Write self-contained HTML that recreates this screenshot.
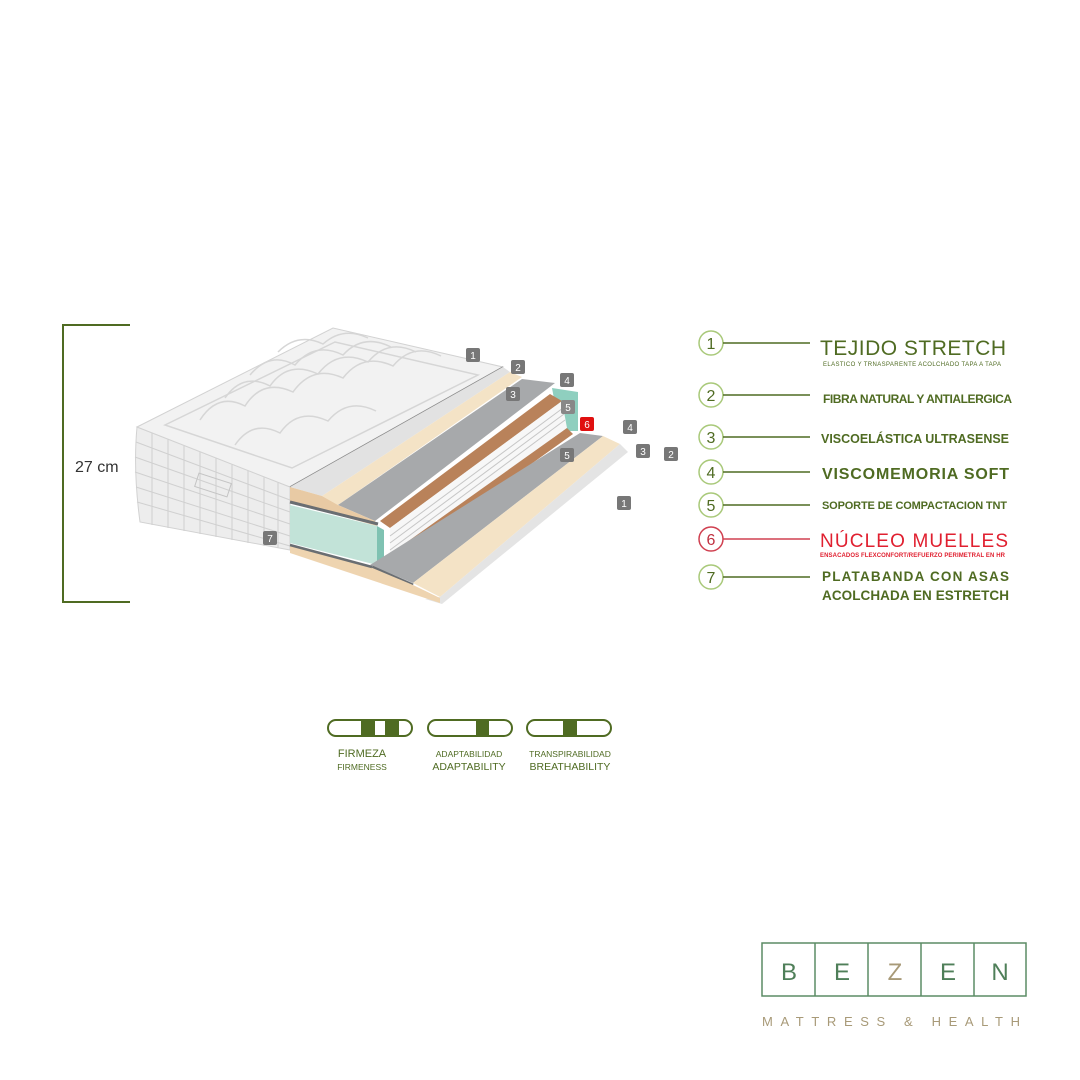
<!DOCTYPE html>
<html><head><meta charset="utf-8"><style>
body{margin:0;width:1080px;height:1080px;background:#fff;overflow:hidden;font-family:"Liberation Sans",sans-serif}
svg{position:absolute;left:0;top:0}
</style></head><body>
<svg width="1080" height="1080" viewBox="0 0 1080 1080">
<g stroke="#4f6b22" stroke-width="2" fill="none">
<path d="M130 325 H63 V602 H130"/>
</g>
<text x="75" y="472" font-size="16" fill="#333">27 cm</text>

<!-- side panel -->
<path d="M137,427 L290,487 L290,550 L140,522 Q133,470 137,427 Z" fill="#ededed" stroke="#d2d2d2"/>
<g stroke="#d0d0d0" stroke-width="1">
<line x1="136" y1="442" x2="290" y2="500"/><line x1="135" y1="457" x2="290" y2="512"/>
<line x1="135" y1="472" x2="290" y2="524"/><line x1="136" y1="487" x2="290" y2="536"/>
<line x1="137" y1="502" x2="290" y2="546"/>
<line x1="152" y1="433" x2="152" y2="525"/><line x1="168" y1="439" x2="168" y2="528"/>
<line x1="184" y1="445" x2="184" y2="531"/><line x1="200" y1="451" x2="200" y2="534"/>
<line x1="216" y1="458" x2="216" y2="537"/><line x1="232" y1="464" x2="232" y2="540"/>
<line x1="248" y1="470" x2="248" y2="543"/><line x1="264" y1="476" x2="264" y2="546"/>
<line x1="278" y1="482" x2="278" y2="548"/>
</g>
<rect x="196" y="478" width="34" height="14" fill="none" stroke="#c4c4c4" transform="rotate(18 213 485)"/>
<!-- top quilted surface -->
<polygon points="137,427 333,328 503,367 290,487" fill="#f2f2f2" stroke="#d2d2d2"/>
<polygon points="165,425 335,342 478,375 292,468" fill="none" stroke="#d6d6d6" stroke-width="1.5"/>
<g fill="none" stroke="#d6d6d6" stroke-width="1.5">
<path d="M200 420 q18 -28 45 -14 q18 -28 48 -14 q20 -28 50 -14 q20 -26 50 -12 q20 -24 48 -10"/>
<path d="M225 398 q18 -26 45 -12 q18 -26 48 -12 q20 -26 50 -12 q20 -24 48 -10"/>
<path d="M250 375 q20 -24 45 -10 q20 -24 48 -10 q20 -22 48 -8"/>
<path d="M278 352 q20 -20 45 -8 q20 -18 45 -6"/>
<path d="M235 445 q18 -26 45 -12 q18 -26 48 -12 q20 -24 48 -10"/>
</g>
<line x1="290" y1="487" x2="503" y2="367" stroke="#8a8a8a" stroke-width="1.5"/>
<!-- top layers -->
<polygon points="290,487 322,496 510,372 503,367" fill="#e2e2e2"/>
<polygon points="322,496 338,505 522,377 510,372" fill="#f4e3c6"/>
<polygon points="338,505 375,521 555,383 522,379" fill="#a7a9ab"/>
<polygon points="290,487 322,496 338,505 375,521 377,526 290,502" fill="#e8caa4"/>
<line x1="290" y1="502" x2="378" y2="524" stroke="#6a6e72" stroke-width="3"/>
<!-- foam -->
<polygon points="290,505 377,526 377,565 290,543" fill="#c2e3d8"/>
<polygon points="377,526 384,530 384,566 377,565" fill="#7fc2b2"/>
<polygon points="552,388 578,392 578,431 560,431" fill="#8fcfbf"/>
<!-- brown & springs -->
<polygon points="380,521 390,528 562,401 550,394" fill="#b9825a"/>
<polygon points="390,528 562,401 567,428 390,558" fill="#f7f7f7"/>
<g stroke="#c6c6c6" stroke-width="1" fill="none">
<path d="M390 536 L563 408"/><path d="M390 543 L564 414"/><path d="M390 550 L565 420"/>
</g>
<polygon points="386,557 392,564 573,434 567,428" fill="#b9825a"/>
<!-- lower layers -->
<polygon points="370,565 413,583 603,436 580,433" fill="#a7a9ab"/>
<line x1="372" y1="567" x2="413" y2="585" stroke="#6a6e72" stroke-width="3"/>
<polygon points="413,583 440,597 620,444 603,436" fill="#f4e3c6"/>
<polygon points="425,599 442,604 628,452 620,444 440,597" fill="#e4e4e4"/>
<polygon points="290,545 370,567 413,585 440,598 440,603 290,553" fill="#eed4b0"/>
<line x1="290" y1="545" x2="372" y2="567" stroke="#6a6e72" stroke-width="2.5"/>
<!-- badges -->
<g font-size="10" fill="#fff" text-anchor="middle">
<rect x="466" y="348" width="14" height="14" rx="2" fill="#777"/><text x="473" y="359">1</text>
<rect x="511" y="360" width="14" height="14" rx="2" fill="#777"/><text x="518" y="371">2</text>
<rect x="506" y="387" width="14" height="14" rx="2" fill="#777"/><text x="513" y="398">3</text>
<rect x="560" y="373" width="14" height="14" rx="2" fill="#777"/><text x="567" y="384">4</text>
<rect x="561" y="400" width="14" height="14" rx="2" fill="#888"/><text x="568" y="411">5</text>
<rect x="580" y="417" width="14" height="14" rx="2" fill="#e01010"/><text x="587" y="428">6</text>
<rect x="623" y="420" width="14" height="14" rx="2" fill="#777"/><text x="630" y="431">4</text>
<rect x="636" y="444" width="14" height="14" rx="2" fill="#777"/><text x="643" y="455">3</text>
<rect x="664" y="447" width="14" height="14" rx="2" fill="#777"/><text x="671" y="458">2</text>
<rect x="560" y="448" width="14" height="14" rx="2" fill="#777"/><text x="567" y="459">5</text>
<rect x="617" y="496" width="14" height="14" rx="2" fill="#777"/><text x="624" y="507">1</text>
<rect x="263" y="531" width="14" height="14" rx="2" fill="#777"/><text x="270" y="542">7</text>
</g>
<!-- legend -->
<g fill="none" stroke-width="1.5">
<circle cx="711" cy="343" r="12" stroke="#a9c97a"/><line x1="723" y1="343" x2="810" y2="343" stroke="#4f6b22"/>
<circle cx="711" cy="395" r="12" stroke="#a9c97a"/><line x1="723" y1="395" x2="810" y2="395" stroke="#4f6b22"/>
<circle cx="711" cy="437" r="12" stroke="#a9c97a"/><line x1="723" y1="437" x2="810" y2="437" stroke="#4f6b22"/>
<circle cx="711" cy="472" r="12" stroke="#a9c97a"/><line x1="723" y1="472" x2="810" y2="472" stroke="#4f6b22"/>
<circle cx="711" cy="505" r="12" stroke="#a9c97a"/><line x1="723" y1="505" x2="810" y2="505" stroke="#4f6b22"/>
<circle cx="711" cy="539" r="12" stroke="#d04050"/><line x1="723" y1="539" x2="810" y2="539" stroke="#d04050"/>
<circle cx="711" cy="577" r="12" stroke="#a9c97a"/><line x1="723" y1="577" x2="810" y2="577" stroke="#4f6b22"/>
</g>
<g font-size="16" fill="#4f6b22" text-anchor="middle">
<text x="711" y="349">1</text><text x="711" y="401">2</text><text x="711" y="443">3</text>
<text x="711" y="478">4</text><text x="711" y="511">5</text><text x="711" y="545" fill="#c03040">6</text><text x="711" y="583">7</text>
</g>
<g fill="#4f6b22">
<text x="820" y="355" font-size="21" textLength="186">TEJIDO STRETCH</text>
<text x="823" y="366" font-size="6" textLength="178">ELASTICO Y TRNASPARENTE ACOLCHADO TAPA A TAPA</text>
<text x="823" y="403" font-size="12" font-weight="bold" textLength="189">FIBRA NATURAL Y ANTIALERGICA</text>
<text x="821" y="443" font-size="12.5" font-weight="bold" textLength="188">VISCOELÁSTICA ULTRASENSE</text>
<text x="822" y="479" font-size="16" font-weight="bold" textLength="187">VISCOMEMORIA SOFT</text>
<text x="822" y="509" font-size="11" font-weight="bold" textLength="185">SOPORTE DE COMPACTACION TNT</text>
<text x="820" y="547" font-size="19" fill="#e02030" textLength="188">NÚCLEO MUELLES</text>
<text x="820" y="557" font-size="6" font-weight="bold" fill="#e02030" textLength="185">ENSACADOS FLEXCONFORT/REFUERZO PERIMETRAL EN HR</text>
<text x="822" y="581" font-size="13.5" font-weight="bold" textLength="187">PLATABANDA CON ASAS</text>
<text x="822" y="600" font-size="13.5" font-weight="bold" textLength="187">ACOLCHADA EN ESTRETCH</text>
</g>
<!-- bars -->
<g fill="none" stroke="#4f6b22" stroke-width="2">
<rect x="328" y="720" width="84" height="16" rx="8"/>
<rect x="428" y="720" width="84" height="16" rx="8"/>
<rect x="527" y="720" width="84" height="16" rx="8"/>
</g>
<g fill="#4f6b22">
<rect x="361" y="720" width="14" height="16"/><rect x="385" y="720" width="14" height="16"/>
<rect x="476" y="720" width="13" height="16"/><rect x="563" y="720" width="14" height="16"/>
</g>
<g fill="#4f6b22" text-anchor="middle">
<text x="362" y="757" font-size="11">FIRMEZA</text><text x="362" y="770" font-size="8.5">FIRMENESS</text>
<text x="469" y="757" font-size="8.5">ADAPTABILIDAD</text><text x="469" y="770" font-size="10.5">ADAPTABILITY</text>
<text x="570" y="757" font-size="8.5">TRANSPIRABILIDAD</text><text x="570" y="770" font-size="10.5">BREATHABILITY</text>
</g>
<!-- logo -->
<g fill="none" stroke="#5b8c65" stroke-width="1.5">
<rect x="762" y="943" width="264" height="53"/>
<line x1="815" y1="943" x2="815" y2="996"/><line x1="868" y1="943" x2="868" y2="996"/>
<line x1="921" y1="943" x2="921" y2="996"/><line x1="974" y1="943" x2="974" y2="996"/>
</g>
<g font-size="24" text-anchor="middle" fill="#4f7f59">
<text x="789" y="980">B</text><text x="842" y="980">E</text><text x="895" y="980" fill="#a89a78">Z</text><text x="948" y="980">E</text><text x="1000" y="980">N</text>
</g>
<text x="762" y="1026" font-size="13" fill="#a89a78" textLength="264" letter-spacing="6">MATTRESS &amp; HEALTH</text>
</svg>
</body></html>
